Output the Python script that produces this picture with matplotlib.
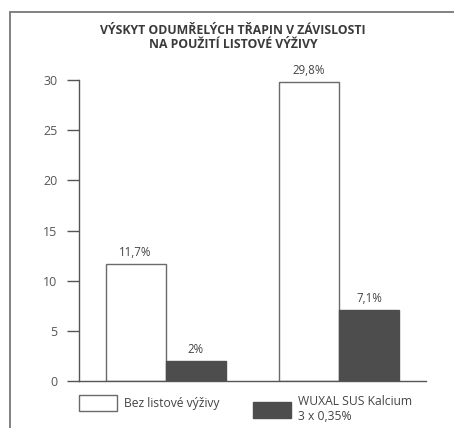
import matplotlib.pyplot as plt
from matplotlib.patches import Patch, Rectangle

# data
groups = ['A', 'B']
bez = [11.7, 29.8]          # Bez listové výživy
wuxal = [2.0, 7.1]          # WUXAL SUS Kalcium 3 x 0,35%
yticks = [0, 5, 10, 15, 20, 25, 30]
legend_labels = ['Bez listové výživy', 'WUXAL SUS Kalcium\n3 x 0,35%']
title = 'VÝSKYT ODUMŘELÝCH TŘAPIN V ZÁVISLOSTI\nNA POUŽITÍ LISTOVÉ VÝŽIVY'

plt.rcParams['font.family'] = ['Open Sans', 'DejaVu Sans']

fig = plt.figure(figsize=(4.54, 4.28), dpi=100)
ax = fig.add_axes([79 / 454, 47 / 428, 347 / 454, 301 / 428])

dark = '#4d4d4d'
edge = '#6a6a6a'
w = 0.347
x = list(range(len(groups)))
b1 = ax.bar([i - w / 2 for i in x], bez, w, color='white', edgecolor=edge, linewidth=1.0)
b2 = ax.bar([i + w / 2 for i in x], wuxal, w, color=dark, edgecolor=dark, linewidth=1.0)

def fmt(v):
    return f'{v:g}'.replace('.', ',') + '%'

for bars, vals in ((b1, bez), (b2, wuxal)):
    for r, v in zip(bars, vals):
        ax.text(r.get_x() + r.get_width() / 2, v + 0.5, fmt(v), ha='center', va='bottom',
                fontsize=8.3, color='#444', clip_on=False)

ax.set_xlim(-0.5, 1.5)
ax.set_ylim(0, 30)
ax.set_yticks(yticks)
ax.set_xticks([])
for s in ('top', 'right'):
    ax.spines[s].set_visible(False)
for s in ('left', 'bottom'):
    ax.spines[s].set_color('#555')
    ax.spines[s].set_linewidth(1.0)
ax.tick_params(axis='y', length=8.6, width=1.0, color='#555', pad=7, labelsize=9, labelcolor='#555')

fig.text(233 / 454, 1 - 37.5 / 428, title, ha='center', va='center', fontsize=8.8,
         fontweight='bold', color='#3a3a3a', linespacing=1.2)

# frame
fig.patches.append(Rectangle((10 / 454, -0.1), 1.2, 1.1 - 12 / 428, transform=fig.transFigure,
                             fill=False, edgecolor='#777', linewidth=1.3))

fs = 8.7
h1 = Patch(facecolor='white', edgecolor=edge, linewidth=1.0)
h2 = Patch(facecolor=dark, edgecolor=dark)
kw = dict(frameon=False, fontsize=fs, handlelength=38 / 12.1, handleheight=20 / 12.1,
          handletextpad=0.6, borderpad=0, borderaxespad=0, labelcolor='#444', loc='upper left')
fig.legend([h1], [legend_labels[0]], bbox_to_anchor=(79 / 454, 1 - 395 / 428), **kw)
fig.legend([h2], [legend_labels[1]], bbox_to_anchor=(253 / 454, 1 - 395 / 428), **kw)

fig.savefig('out.png', dpi=100, facecolor='white')
